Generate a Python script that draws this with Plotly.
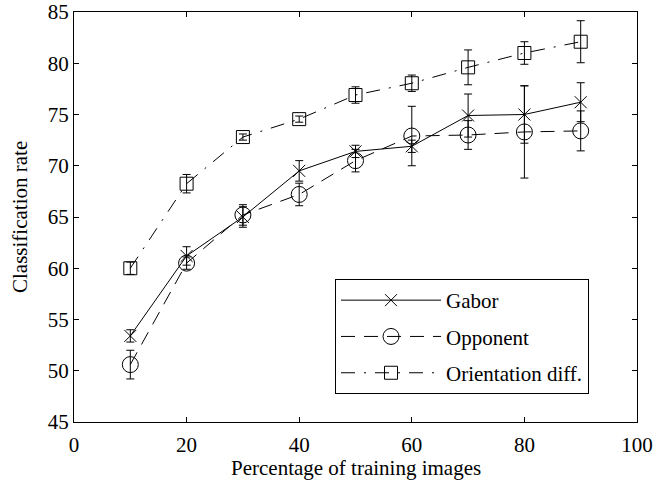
import plotly.graph_objects as go

pct = [10, 20, 30, 40, 50, 60, 70, 80, 90]

gabor = [53.4, 61.2, 65.0, 69.5, 71.4, 71.9, 74.9, 75.0, 76.2]
gabor_err = [0.6, 0.9, 1.0, 1.0, 0.6, 0.6, 2.1, 2.8, 1.9]

opponent = [50.6, 60.5, 65.2, 67.2, 70.5, 72.9, 73.0, 73.3, 73.4]
opponent_err = [1.4, 0.6, 1.0, 1.1, 1.1, 2.9, 1.4, 4.5, 1.95]

orient = [60.0, 68.25, 72.8, 74.55, 76.9, 78.05, 79.6, 81.0, 82.1]
orient_err = [0.6, 0.9, 0.3, 0.3, 0.8, 0.8, 1.7, 1.1, 2.05]

x_title = "Percentage of training images"
y_title = "Classification rate"

FONT = "Liberation Serif, Times New Roman, serif"
FS = 21

def series(name, y, err, symbol, size, dash):
    return go.Scatter(
        x=pct, y=y, name=name, mode="lines+markers", legendgroup=name,
        line=dict(color="black", width=1, dash=dash),
        marker=dict(symbol=symbol, size=size, color="black",
                    line=dict(color="black", width=1)),
        error_y=dict(type="data", array=err, visible=True,
                     color="black", thickness=1, width=4),
    )

fig = go.Figure()
fig.add_trace(series("Gabor", gabor, gabor_err, "x-thin-open", 12, "solid"))
fig.add_trace(series("Opponent", opponent, opponent_err, "circle-open", 16, "14px,9px"))
fig.add_trace(series("Orientation diff.", orient, orient_err, "square-open", 13, "14px,9px,2px,9px"))

axis_common = dict(
    showgrid=False, zeroline=False, showline=True, linecolor="black", linewidth=1,
    mirror="ticks", ticks="inside", ticklen=5, tickcolor="black",
    tickfont=dict(family=FONT, size=FS, color="black"),
    ticklabeloverflow="allow", automargin=False,
)

PLOT_H = 482 - 12 - 60
PLOT_W = 672 - 74 - 35

fig.update_layout(
    width=672, height=482,
    margin=dict(l=74, r=35, t=12, b=60),
    paper_bgcolor="white", plot_bgcolor="white",
    font=dict(family=FONT, size=FS, color="black"),
    xaxis=dict(range=[0, 100], dtick=20, tick0=0, ticklabelstandoff=4, **axis_common),
    yaxis=dict(range=[45, 85], dtick=5, tick0=45, **axis_common),
    legend=dict(x=(335 - 74) / PLOT_W, y=(422 - 279) / PLOT_H, xanchor="left", yanchor="top",
                bordercolor="black", borderwidth=1, bgcolor="white",
                font=dict(family=FONT, size=FS, color="black"),
                traceorder="grouped", tracegroupgap=6,
                itemwidth=100, entrywidth=311),
    showlegend=True,
    annotations=[
        dict(text=x_title, xref="paper", yref="paper", x=0.5, y=-46 / PLOT_H,
             xanchor="center", yanchor="middle", showarrow=False,
             font=dict(family=FONT, size=FS, color="black")),
        dict(text=y_title, xref="paper", yref="paper", x=-54 / PLOT_W, y=0.5,
             xanchor="center", yanchor="middle", showarrow=False, textangle=-90,
             font=dict(family=FONT, size=FS, color="black")),
    ],
)

fig.write_html("out.html", config={"displayModeBar": False},
               post_script="document.body.style.margin='0';")
